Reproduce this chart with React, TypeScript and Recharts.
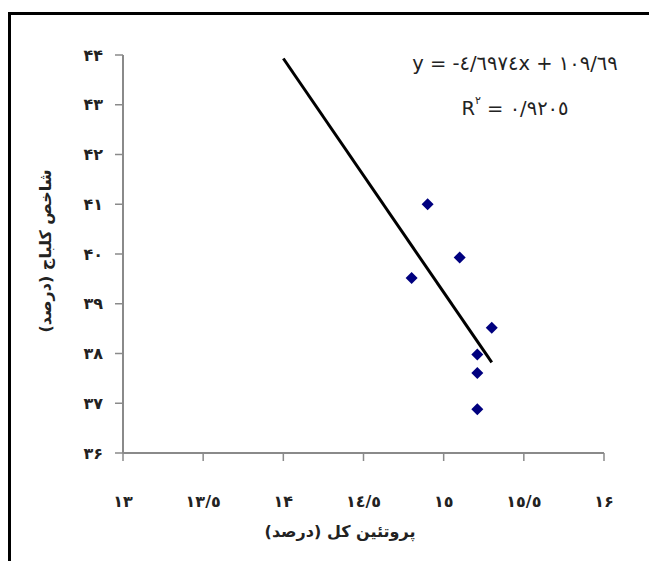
import React from 'react';
import { ScatterChart, Scatter, XAxis, YAxis, Customized } from 'recharts';

// داده‌ها: پروتئین کل (درصد) در برابر شاخص کلباج (درصد)
const proteinPercent = [14.9, 15.1, 14.8, 15.3, 15.21, 15.21, 15.21];
const kalbajIndex = [41.0, 39.93, 39.52, 38.52, 37.98, 37.61, 36.88];

// خط روند (دو سر خط، خوانده شده از تصویر)
const trendX = [14.0, 15.3];
const trendY = [43.93, 37.82];

const xTicks = [13, 13.5, 14, 14.5, 15, 15.5, 16];
const xTickLabels = ['۱۳', '۱۳/٥', '۱۴', '۱٤/٥', '۱٥', '۱٥/٥', '۱۶'];
const yTicks = [36, 37, 38, 39, 40, 41, 42, 43, 44];
const yTickLabels = ['۳۶', '۳۷', '۳۸', '۳۹', '۴۰', '۴۱', '۴۲', '۴۳', '۴۴'];

const xTitle = 'پروتئین کل (درصد)';
const yTitle = 'شاخص کلباج (درصد)';
const equation = 'y = -٤/٦٩٧٤x + ١٠٩/٦٩';
const rSquared = ' = ۰/۹۲۰٥';

const points = proteinPercent.map((x, i) => ({ x, y: kalbajIndex[i] }));
const trend = trendX.map((x, i) => ({ x, y: trendY[i] }));

const axisColor = '#8a8a8a';
const faFont = "'DejaVu Sans', sans-serif";
const tickStyle = { fill: '#222', fontSize: 16, fontFamily: faFont, fontWeight: 'bold' };

const Diamond = (props: any) => {
  const { cx, cy } = props;
  const r = 6;
  return <polygon points={`${cx},${cy - r} ${cx + r},${cy} ${cx},${cy + r} ${cx - r},${cy}`} fill="#00007f" />;
};

const Texts = () => (
  <g>
    <text x={507} y={55} textAnchor="middle" dominantBaseline="central" fontSize={19.5} fontFamily={faFont} fill="#222">
      {equation}
    </text>
    <text x={507} y={100} textAnchor="middle" dominantBaseline="central" fontSize={19.5} fontFamily={faFont} fill="#222">
      R<tspan fontSize={11} dy={-8}>۲</tspan>
      <tspan dy={8}>{rSquared}</tspan>
    </text>
    <text
      x={332}
      y={523}
      textAnchor="middle"
      dominantBaseline="central"
      fontSize={16}
      fontWeight="bold"
      fontFamily={faFont}
      fill="#222"
      direction="rtl"
      style={{ direction: 'rtl', unicodeBidi: 'plaintext' } as any}
    >
      {xTitle}
    </text>
    <text
      x={37}
      y={243}
      transform="rotate(-90 37 243)"
      textAnchor="middle"
      dominantBaseline="central"
      fontSize={16}
      fontWeight="bold"
      fontFamily={faFont}
      fill="#222"
      direction="rtl"
      style={{ direction: 'rtl', unicodeBidi: 'plaintext' } as any}
    >
      {yTitle}
    </text>
  </g>
);

export default function App() {
  return (
    <div style={{ position: 'relative', width: 649, height: 553, background: '#fff' }}>
      <div
        style={{
          position: 'absolute',
          left: 0,
          top: 4,
          width: 649,
          height: 549,
          borderTop: '3px solid #000',
          borderLeft: '3px solid #000',
          boxSizing: 'border-box',
        }}
      />
      <div style={{ position: 'absolute', left: 0, top: 0 }}>
        <ScatterChart width={649} height={553} margin={{ top: 47, right: 53, left: 55, bottom: 78 }}>
          <XAxis
            type="number"
            dataKey="x"
            domain={[13, 16]}
            ticks={xTicks}
            tickFormatter={(v: number) => xTickLabels[xTicks.indexOf(v)]}
            height={30}
            tickSize={8}
            tickMargin={35}
            axisLine={{ stroke: axisColor, strokeWidth: 2 }}
            tickLine={{ stroke: axisColor, strokeWidth: 1.5 }}
            tick={tickStyle}
          />
          <YAxis
            type="number"
            dataKey="y"
            domain={[36, 44]}
            ticks={yTicks}
            tickFormatter={(v: number) => yTickLabels[yTicks.indexOf(v)]}
            width={60}
            tickSize={8}
            tickMargin={12}
            axisLine={{ stroke: axisColor, strokeWidth: 2 }}
            tickLine={{ stroke: axisColor, strokeWidth: 1.5 }}
            tick={tickStyle}
          />
          <Scatter data={points} shape={Diamond} isAnimationActive={false} />
          <Scatter
            data={trend}
            line={{ stroke: '#000', strokeWidth: 3 }}
            shape={() => <g />}
            isAnimationActive={false}
          />
          <Customized component={Texts} />
        </ScatterChart>
      </div>
    </div>
  );
}
